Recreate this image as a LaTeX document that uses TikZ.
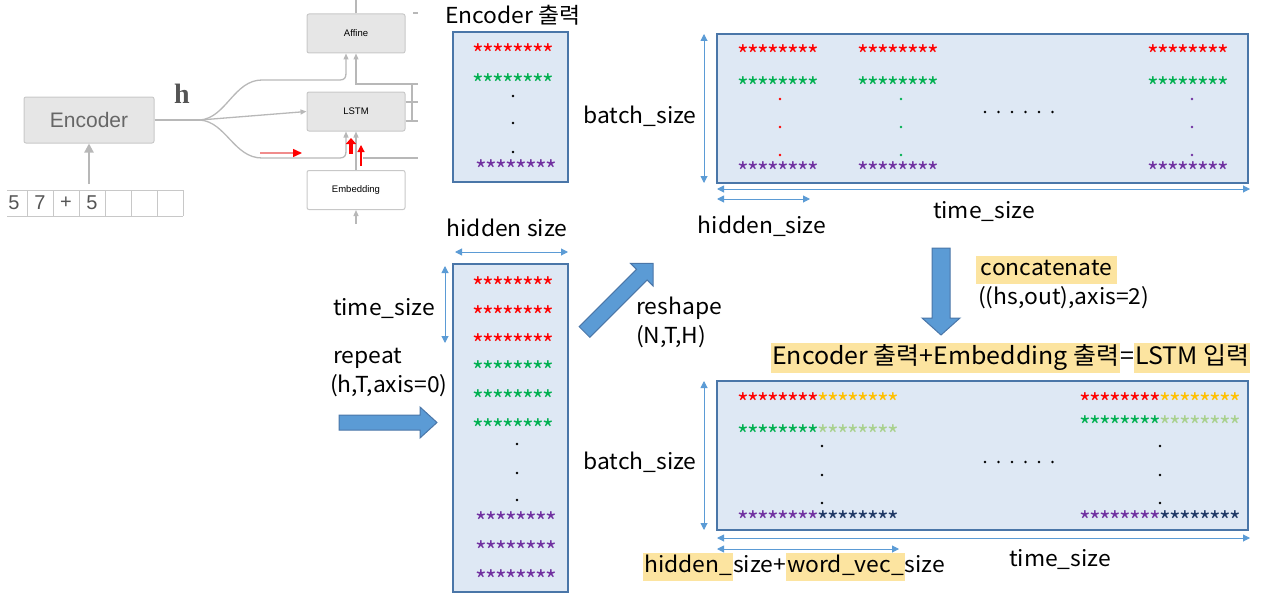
\documentclass[tikz,border=0pt]{standalone}
\usepackage{fontspec}
\setmainfont{Noto Sans CJK KR}[FakeStretch=1.04]
\newfontfamily\starfont{Noto Sans CJK KR}
\newfontfamily\hel{Liberation Sans}
\newfontfamily\hser{Liberation Serif}
\usetikzlibrary{arrows.meta}
\definecolor{boxfill}{HTML}{DEE8F4}
\definecolor{boxline}{HTML}{4A76A8}
\definecolor{arr}{HTML}{5B9BD5}
\definecolor{hl}{HTML}{FCE4A0}
\definecolor{sred}{HTML}{FF0000}
\definecolor{sgreen}{HTML}{00B050}
\definecolor{spurple}{HTML}{7030A0}
\definecolor{syellow}{HTML}{FFC000}
\definecolor{slgreen}{HTML}{A9D18E}
\definecolor{snavy}{HTML}{1F3864}
\definecolor{gline}{HTML}{B8B8B8}
\definecolor{gborder}{HTML}{C8C8C8}
\definecolor{gfill}{HTML}{E6E6E6}
\definecolor{gtext}{HTML}{666666}
\definecolor{htext}{HTML}{555555}
\definecolor{pinkln}{HTML}{F08C8C}
\newcommand\onest{\makebox[10pt]{*}}
\newcommand\eightst{\onest\onest\onest\onest\onest\onest\onest\onest}
\newcommand\hlb[1]{{\setlength\fboxsep{1pt}\colorbox{hl}{\strut #1}}}
\begin{document}
\begin{tikzpicture}[x=1pt,y=-1pt,
  lbl/.style={font=\fontsize{22}{26}\selectfont, inner sep=0pt},
  bbox/.style={draw=boxline, fill=boxfill, line width=1.5pt},
  dim/.style={draw=arr, line width=1pt, {Triangle[length=7pt,width=7pt]}-{Triangle[length=7pt,width=7pt]}},
  starrow/.style={font=\starfont\fontsize{25}{25}\selectfont, inner sep=0pt, yshift=-4.9pt},
  gl/.style={draw=gline, line width=1.3pt},
  glarr/.style={gl, -{Triangle[length=6pt,width=5pt]}},
  gbox/.style={draw=gborder, fill=gfill, rounded corners=2pt, line width=1pt},
  smallbox/.style={gbox, minimum width=98pt, minimum height=39pt, font=\hel\fontsize{9.5}{10}\selectfont},
  cellline/.style={draw=gborder, line width=1pt},
  dig/.style={font=\hel\fontsize{20}{20}\selectfont, text=htext, inner sep=0pt},
  blk/.style={fill=arr, draw=boxline, line width=1pt}
]
\useasboundingbox (0,0) rectangle (1271,594);

% ---------------- encoder / decoder sketch ----------------
\node[gbox, minimum width=130pt, minimum height=46pt, font=\hel\fontsize{21}{21}\selectfont, text=gtext] (enc) at (89,120) {Encoder};
\node[smallbox] (aff) at (356,33.5) {Affine};
\node[smallbox] (lstm) at (356,111.5) {LSTM};
\node[smallbox, fill=white] (emb) at (356,190) {Embedding};
\node[font=\hser\bfseries\fontsize{28}{28}\selectfont, text=htext, inner sep=0pt] (hlab) at (182,94) {h};

\coordinate (br) at (200,120);
\draw[gl] (enc.east) -- (br);
\draw[glarr] (br) -- (lstm.west);
\draw[glarr] (br) .. controls (226,118) and (234,80) .. (262,80) -- (340,80) .. controls (345,80) and (346,77) .. (346,73) -- ([xshift=-10pt]aff.south);
\draw[glarr] (br) .. controls (226,122) and (234,158) .. (262,158) -- (340,158) .. controls (345,158) and (346,155) .. (346,151) -- ([xshift=-10pt]lstm.south);
\draw[glarr] (emb.north) -- (lstm.south);
\draw[glarr] (418,84) -- (aff.south |- 0,84) -- (aff.south);
\draw[gl] (412,84) -- (412,121);
\draw[gl] (lstm.east |- 0,102) -- (418,102);
\draw[gl] (lstm.east |- 0,121) -- (418,121);
\draw[gl] (363,158) -- (418,158);
\draw[gl] (aff.north) -- (356,0);
\draw[gl] (413,13) -- (418,13);
\coordinate (embin) at (356,224);
\draw[glarr] (embin) -- (emb.south);

\coordinate (inp) at (89,184);
\draw[draw=gline, line width=2.2pt, -{Triangle[length=9pt,width=9pt]}] (inp) -- (enc.south);

\draw[draw=pinkln, line width=1.5pt, -{Triangle[length=9pt,width=8pt,color=red]}] (260,153) -- (302,153);
\draw[red, line width=4pt, -{Triangle[length=6pt,width=10pt]}] (351,154) -- (351,138);
\draw[red, line width=1.2pt, -{Triangle[length=7pt,width=7pt]}] (361,166) -- (361,145);

\draw[cellline] (7,190) -- (183,190) (7,216) -- (183,216);
\foreach \x in {27,53,79,105,131,157,183} \draw[cellline] (\x,190) -- (\x,216);
\node[dig] (d1) at (14,203) {5};
\node[dig] (d2) at (40,203) {7};
\node[dig] (d3) at (66,203) {+};
\node[dig] (d4) at (92,203) {5};

% ---------------- encoder output ----------------
\node[lbl] (encout) at (513,15) {Encoder 출력};
\node[bbox, minimum width=115pt, minimum height=150pt] (b1) at (510.5,107) {};
\node[starrow, text=sred] (b1r) at (513,49) {\eightst};
\node[starrow, text=sgreen] (b1g) at (513,79) {\eightst};
\node[starrow, text=spurple] (b1p) at (516,165) {\eightst};
\foreach \y in {96,123,152} \fill (513,\y) circle (1.3pt);

\node[lbl] (hsz) at (507,228) {hidden size};
\coordinate (hsa) at (455,252);
\coordinate (hsb) at (568,252);
\draw[dim] (hsa) -- (hsb);

% ---------------- repeated ----------------
\node[bbox, minimum width=115pt, minimum height=328pt] (b2) at (510.5,428) {};
\foreach \y/\c/\n in {282/sred/a,311/sred/b,339/sred/c,366/sgreen/d,395/sgreen/e,424/sgreen/f}
  \node[starrow, text=\c] (b2\n) at (513,\y) {\eightst};
\foreach \y/\n in {517/g,546/h,575/i}
  \node[starrow, text=spurple] (b2\n) at (516,\y) {\eightst};
\foreach \y in {444,473,500} \fill (517,\y) circle (1.3pt);

\coordinate (tsa) at (445,266);
\coordinate (tsb) at (445,343);
\draw[dim] (tsa) -- (tsb);
\node[lbl] (tsl) at (384,309) {time\_size};
\node[lbl, anchor=west] (rep1) at (333,358) {repeat};
\node[lbl, anchor=west] (rep2) at (330,386) {(h,T,axis=0)};
\draw[blk] (339,415) -- (420,415) -- (420,407) -- (437,422.5) -- (420,438) -- (420,430) -- (339,430) -- cycle;

% diagonal arrow
\begin{scope}[shift={(584.5,332)}, rotate=45]
\draw[blk] (0,-7.5) -- (81,-7.5) -- (81,-16) -- (97,0) -- (81,16) -- (81,7.5) -- (0,7.5) -- cycle;
\end{scope}
\node[lbl, anchor=west] (rs1) at (636,308) {reshape};
\node[lbl, anchor=west] (rs2) at (636,337) {(N,T,H)};

% ---------------- reshaped ----------------
\node[lbl] (bs1) at (640,116) {batch\_size};
\coordinate (bva) at (704,34);
\coordinate (bvb) at (704,183);
\draw[dim] (bva) -- (bvb);
\node[bbox, minimum width=531pt, minimum height=149pt] (b3) at (982.5,108.5) {};
\foreach \x/\c/\n in {778/sred/a,898/sred/b,1188/sred/c} \node[starrow, text=\c] (b3r\n) at (\x,50) {\eightst};
\foreach \x/\n in {778/a,898/b,1188/c} \node[starrow, text=sgreen] (b3g\n) at (\x,82) {\eightst};
\foreach \x/\n in {778/a,898/b,1188/c} \node[starrow, text=spurple] (b3p\n) at (\x,167) {\eightst};
\foreach \y in {99,127,155} {
  \fill[sred] (780,\y) circle (1.3pt);
  \fill[sgreen] (901,\y) circle (1.3pt);
  \fill[spurple] (1192,\y) circle (1.3pt);
}
\foreach \x in {0,...,5} \fill (985+13.5*\x,112) circle (1.3pt);
\coordinate (t3a) at (717,189);
\coordinate (t3b) at (1250,189);
\draw[dim] (t3a) -- (t3b);
\coordinate (h3a) at (717,199);
\coordinate (h3b) at (810,199);
\draw[dim] (h3a) -- (h3b);
\node[lbl] (h3l) at (762,226) {hidden\_size};
\node[lbl] (t3l) at (984,212) {time\_size};

% ---------------- concatenate ----------------
\draw[blk] (932,248) -- (950,248) -- (950,318) -- (960,318) -- (941,335) -- (922,318) -- (932,318) -- cycle;
\node[lbl, anchor=west] (cc1) at (976,270) {\hlb{\,concatenate\,}};
\node[lbl, anchor=west] (cc2) at (978,298) {((hs,out),axis=2)};
\node[lbl, font=\fontsize{24}{26}\selectfont, anchor=west] (form) at (771,358) {\hlb{Encoder 출력+Embedding 출력}=\hlb{LSTM 입력}};

% ---------------- concatenated ----------------
\node[lbl] (bs2) at (640,462) {batch\_size};
\coordinate (bwa) at (704,381);
\coordinate (bwb) at (704,530);
\draw[dim] (bwa) -- (bwb);
\node[bbox, minimum width=531pt, minimum height=149pt] (b4) at (982.5,455.5) {};
\node[starrow] (b4ra) at (818,398) {\color{sred}\eightst\color{syellow}\eightst};
\node[starrow] (b4ga) at (818,430) {\color{sgreen}\eightst\color{slgreen}\eightst};
\node[starrow] (b4pa) at (818,516) {\color{spurple}\eightst\color{snavy}\eightst};
\node[starrow] (b4rb) at (1160,398) {\color{sred}\eightst\color{syellow}\eightst};
\node[starrow] (b4gb) at (1160,421) {\color{sgreen}\eightst\color{slgreen}\eightst};
\node[starrow] (b4pb) at (1160,516) {\color{spurple}\eightst\color{snavy}\eightst};
\foreach \y in {446,475,503} {
  \fill (822,\y) circle (1.3pt);
  \fill (1160,\y) circle (1.3pt);
}
\foreach \x in {0,...,5} \fill (985+13.5*\x,462) circle (1.3pt);
\coordinate (t4a) at (717,538);
\coordinate (t4b) at (1250,538);
\draw[dim] (t4a) -- (t4b);
\coordinate (h4a) at (717,549);
\coordinate (h4b) at (899,549);
\draw[dim] (h4a) -- (h4b);
\node[lbl, anchor=west] (h4l) at (643,567) {\hlb{hidden\_}size+\hlb{word\_vec\_}size};
\node[lbl] (t4l) at (1060,560) {time\_size};
\end{tikzpicture}
\end{document}
